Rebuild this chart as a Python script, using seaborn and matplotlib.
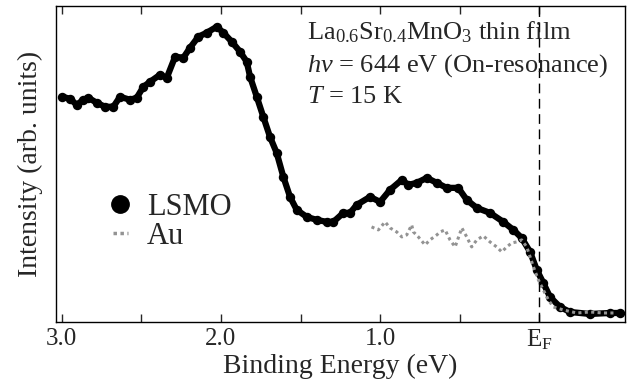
import numpy as np
import pandas as pd
import matplotlib
matplotlib.use("Agg")
import matplotlib.pyplot as plt
from matplotlib.lines import Line2D
import seaborn as sns

# LSMO spectrum (binding energy eV, intensity arb.)
lsmo_energy = [2.996, 2.948, 2.906, 2.864, 2.833, 2.78, 2.728, 2.676, 2.634, 2.571, 2.529,
               2.487, 2.445, 2.383, 2.34, 2.288, 2.236, 2.194, 2.142, 2.089, 2.026, 1.985,
               1.932, 1.88, 1.838, 1.817, 1.775, 1.734, 1.692, 1.65, 1.608, 1.566, 1.524,
               1.461, 1.398, 1.335, 1.294, 1.231, 1.189, 1.147, 1.064, 1.0, 0.938, 0.864,
               0.823, 0.77, 0.707, 0.644, 0.582, 0.509, 0.456, 0.393, 0.31, 0.226, 0.163,
               0.111, 0.058, 0.016, -0.025, -0.067, -0.13, -0.193, -0.318, -0.444, -0.507]
lsmo_intensity = [225, 223, 217, 222, 224, 219, 215, 215, 225, 222, 224,
                  235, 240, 247, 244, 265, 264, 274, 285, 289, 295, 289,
                  280, 270, 260, 245, 225, 205, 185, 169, 145, 125, 112,
                  105, 102, 100, 100, 109, 109, 117, 125, 120, 132, 142,
                  137, 139, 144, 139, 134, 134, 122, 114, 109, 100, 92,
                  84, 70, 52, 39, 25, 15, 10, 8, 9, 9]

# Au reference (Fermi edge)
au_energy = [1.054, 1.011, 0.969, 0.938, 0.896, 0.864, 0.833, 0.802, 0.791, 0.76, 0.718,
             0.687, 0.644, 0.623, 0.592, 0.561, 0.529, 0.487, 0.456, 0.425, 0.393, 0.352,
             0.31, 0.268, 0.236, 0.205, 0.173, 0.142, 0.111, 0.079, 0.058, 0.037, 0.006,
             -0.025, -0.057, -0.088, -0.151, -0.235, -0.318, -0.402, -0.486]
au_intensity = [95, 92, 100, 94, 90, 85, 87, 97, 90, 85, 77,
                82, 87, 90, 92, 82, 75, 94, 85, 75, 82, 86,
                80, 75, 70, 75, 79, 80, 82, 75, 65, 55, 42,
                32, 22, 15, 12, 9, 10, 9, 9]

tick_values = [3.0, 2.0, 1.0, 0.0]
tick_labels = ["3.0", "2.0", "1.0", r"E$_\mathrm{F}$"]

sns.set_theme(style="ticks")
plt.rcParams["font.family"] = ["Liberation Serif", "DejaVu Serif"]
plt.rcParams["mathtext.fontset"] = "custom"
plt.rcParams["mathtext.rm"] = "Liberation Serif"
plt.rcParams["mathtext.it"] = "Liberation Serif:italic"
plt.rcParams["mathtext.bf"] = "Liberation Serif:bold"

fig = plt.figure(figsize=(6.38, 3.92), dpi=100)
ax = fig.add_axes([0.0873, 0.1786, 0.8923, 0.8069])

df_lsmo = pd.DataFrame({"E": lsmo_energy, "I": lsmo_intensity})
df_au = pd.DataFrame({"E": au_energy, "I": au_intensity})

sns.lineplot(data=df_lsmo, x="E", y="I", ax=ax, color="black", linewidth=4.5,
             marker="o", markersize=6.8, markeredgewidth=0, sort=False,
             estimator=None, legend=False)
sns.lineplot(data=df_au, x="E", y="I", ax=ax, color="#939393", linewidth=2.2,
             sort=False, estimator=None, legend=False, dashes=False)
ax.lines[-1].set_linestyle((0, (1.0, 1.1)))

ax.axvline(0.0, color="black", linewidth=1.0, dashes=(7, 4))

ax.set_xlim(3.038, -0.538)
ax.set_ylim(0, 316)
ax.set_xticks(tick_values)
ax.set_xticklabels(tick_labels, fontsize=18)
ax.set_xticks([2.5, 1.5, 0.5], minor=True)
ax.set_yticks([])
ax.tick_params(axis="x", which="both", direction="in", top=True, bottom=True,
               width=1, pad=4)
ax.tick_params(axis="x", which="major", length=6)
ax.tick_params(axis="x", which="minor", length=6)
for s in ax.spines.values():
    s.set_linewidth(1.0)
    s.set_color("black")

ax.set_xlabel("Binding Energy (eV)", fontsize=20, labelpad=1)
ax.set_ylabel("Intensity (arb. units)", fontsize=20, labelpad=9)

ax.text(0.441, 0.892, r"La$_{0.6}$Sr$_{0.4}$MnO$_3$ thin film", transform=ax.transAxes,
        fontsize=19, va="baseline", ha="left")
ax.text(0.441, 0.791, r"$h\nu$ = 644 eV (On-resonance)", transform=ax.transAxes,
        fontsize=19, va="baseline", ha="left")
ax.text(0.441, 0.693, r"$T$ = 15 K", transform=ax.transAxes,
        fontsize=19, va="baseline", ha="left")

handles = [Line2D([], [], color="black", marker="o", linestyle="none", markersize=12.5),
           Line2D([], [], color="#939393", linewidth=2.5, linestyle=(0, (1.0, 1.0)))]
ax.legend(handles, ["LSMO", "Au"], loc="center left", bbox_to_anchor=(0.100, 0.3165),
          frameon=False, fontsize=22, handlelength=0.5, handletextpad=0.62,
          labelspacing=0.0, borderpad=0, borderaxespad=0)

fig.savefig("out.png", dpi=100)
